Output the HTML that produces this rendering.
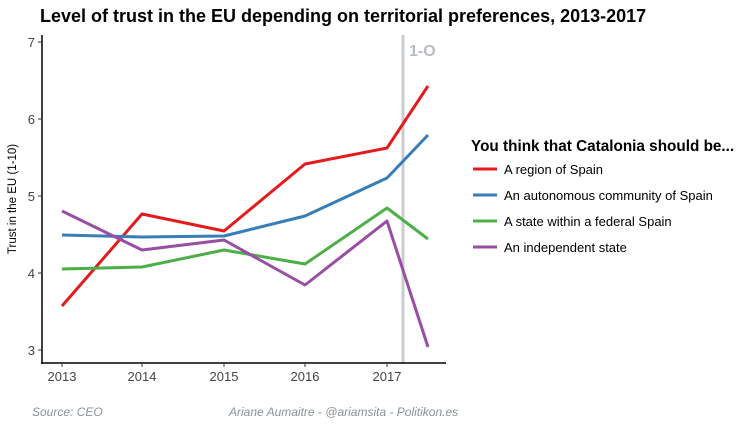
<!DOCTYPE html>
<html><head><meta charset="utf-8"><style>
body{margin:0;background:#fff;}
svg text{font-family:"Liberation Sans",sans-serif;}
</style></head><body>
<svg width="750" height="429" viewBox="0 0 750 429" xmlns="http://www.w3.org/2000/svg">
<rect width="750" height="429" fill="#fff"/>
<text x="40" y="22" font-size="18" font-weight="bold" fill="#000">Level of trust in the EU depending on territorial preferences, 2013-2017</text>
<line x1="403" y1="35" x2="403" y2="363" stroke="#c8cccf" stroke-width="3"/>
<text x="409" y="56" font-size="16" font-weight="bold" fill="#b8bcc0">1-O</text>
<g fill="none" stroke-width="3" stroke-linejoin="round">
<polyline stroke="#e41a1c" points="62,306 142,214 224,231 305,164 387,148 428,86"/>
<polyline stroke="#377eb8" points="62,235 142,237 224,236 305,216 387,178 428,135"/>
<polyline stroke="#4daf4a" points="62,269 142,267 224,250 305,264 387,208 428,239"/>
<polyline stroke="#984ea3" points="62,211 142,250 224,240 305,285 387,221 428,347"/>
</g>
<line x1="42" y1="35" x2="42" y2="364" stroke="#000" stroke-width="1.5"/>
<line x1="41" y1="363" x2="446" y2="363" stroke="#000" stroke-width="1.5"/>
<g stroke="#333" stroke-width="1">
<line x1="38" y1="42" x2="42" y2="42"/><line x1="38" y1="119" x2="42" y2="119"/><line x1="38" y1="196" x2="42" y2="196"/><line x1="38" y1="273" x2="42" y2="273"/><line x1="38" y1="350" x2="42" y2="350"/>
<line x1="62" y1="363" x2="62" y2="367"/><line x1="142" y1="363" x2="142" y2="367"/><line x1="224" y1="363" x2="224" y2="367"/><line x1="305" y1="363" x2="305" y2="367"/><line x1="387" y1="363" x2="387" y2="367"/>
</g>
<g font-size="13" fill="#444" text-anchor="end">
<text x="35" y="47">7</text><text x="35" y="124">6</text><text x="35" y="201">5</text><text x="35" y="278">4</text><text x="35" y="355">3</text>
</g>
<g font-size="13" fill="#444" text-anchor="middle">
<text x="62" y="381">2013</text><text x="142" y="381">2014</text><text x="224" y="381">2015</text><text x="305" y="381">2016</text><text x="387" y="381">2017</text>
</g>
<text transform="translate(16,199) rotate(-90)" font-size="11.5" fill="#000" text-anchor="middle">Trust in the EU (1-10)</text>
<text x="471" y="151" font-size="15.3" font-weight="bold" fill="#000">You think that Catalonia should be...</text>
<g stroke-width="3">
<line x1="473" y1="169" x2="497" y2="169" stroke="#e41a1c"/>
<line x1="473" y1="195" x2="497" y2="195" stroke="#377eb8"/>
<line x1="473" y1="221" x2="497" y2="221" stroke="#4daf4a"/>
<line x1="473" y1="247" x2="497" y2="247" stroke="#984ea3"/>
</g>
<g font-size="13" fill="#000">
<text x="504" y="174">A region of Spain</text>
<text x="504" y="200">An autonomous community of Spain</text>
<text x="504" y="226">A state within a federal Spain</text>
<text x="504" y="252">An independent state</text>
</g>
<text x="32" y="416" font-size="12" font-style="italic" fill="#8a9296">Source: CEO</text>
<text x="229" y="416" font-size="12" font-style="italic" fill="#8a9296">Ariane Aumaitre - @ariamsita - Politikon.es</text>
</svg>
</body></html>
